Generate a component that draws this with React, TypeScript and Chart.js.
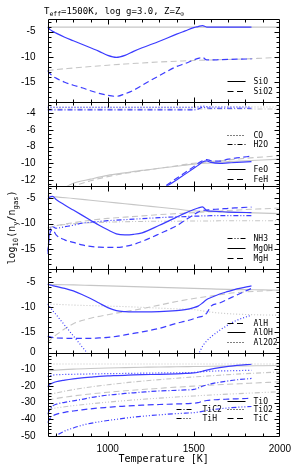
import React, { useEffect, useRef } from 'react';
import { Chart, registerables } from 'chart.js';
Chart.register(...registerables);

// ---- temperature grids ----
const T_BLUE = [650, 665, 680, 700, 750, 800, 850, 900, 950, 1000, 1050, 1100, 1150, 1200, 1300, 1400, 1450, 1500, 1525, 1550, 1575, 1600, 1650, 1700, 1750, 1835];
const T_GRAY = [650, 700, 800, 900, 1000, 1100, 1200, 1300, 1400, 1500, 1600, 1700, 1800, 1900, 2000];

// ---- panel 1: SiO, SiO2 ----
const SiO_B = [-4.1, -4.6, -4.95, -5.3, -6.1, -6.8, -7.5, -8.2, -8.9, -9.7, -10.1, -9.7, -8.9, -8.2, -6.9, -5.5, -4.85, -4.2, -4.0, -3.8, -4.1, -4.1, -4.1, -4.1, -4.1, -4.1];
const SiO2_B = [-12.7, -13.3, -13.8, -14.2, -15.0, -15.6, -16.1, -16.7, -17.2, -17.6, -17.8, -17.3, -16.6, -15.6, -13.7, -11.9, -11.3, -10.6, -10.3, -10.1, -10.6, -10.6, -10.55, -10.5, -10.45, -10.4];
const SiO_G = [-4.1, -4.1, -4.1, -4.1, -4.1, -4.1, -4.1, -4.1, -4.1, -4.1, -4.1, -4.1, -4.1, -4.1, -4.1];
const SiO2_G = [-12.7, -12.5, -12.2, -11.9, -11.65, -11.4, -11.2, -11.0, -10.85, -10.7, -10.6, -10.5, -10.4, -10.25, -10.1];

// ---- panel 2: CO, H2O, FeO, FeH ----
const CO_B = [-3.3, -3.3, -3.3, -3.3, -3.3, -3.3, -3.3, -3.3, -3.3, -3.3, -3.3, -3.3, -3.3, -3.3, -3.3, -3.3, -3.3, -3.3, -3.25, -3.15, -3.2, -3.25, -3.25, -3.25, -3.25, -3.25];
const H2O_B = [-3.6, -3.6, -3.6, -3.6, -3.6, -3.6, -3.6, -3.6, -3.6, -3.6, -3.6, -3.6, -3.6, -3.6, -3.6, -3.6, -3.6, -3.6, -3.5, -3.3, -3.35, -3.4, -3.4, -3.4, -3.4, -3.4];
const FeO_B = [null, null, null, null, null, null, null, null, null, null, null, null, null, -14.6, -13.3, -12.0, -11.3, -10.6, -10.25, -9.85, -9.7, -9.9, -10.0, -9.95, -9.9, -9.8];
const FeH_B = [null, null, null, null, null, null, null, null, null, null, null, null, null, -14.5, -13.2, -11.8, -11.1, -10.4, -10.0, -9.7, -9.55, -9.7, -9.75, -9.5, -9.35, -9.15];
const CO_G = [-3.25, -3.25, -3.25, -3.25, -3.25, -3.25, -3.25, -3.25, -3.25, -3.25, -3.25, -3.25, -3.25, -3.25, -3.25];
const H2O_G = [-3.5, -3.5, -3.5, -3.5, -3.5, -3.5, -3.5, -3.5, -3.5, -3.5, -3.5, -3.5, -3.5, -3.5, -3.5];
const FeO_G = [-14.5, -13.6, -12.4, -11.9, -11.45, -11.15, -10.85, -10.6, -10.35, -10.1, -9.95, -9.8, -9.7, -9.6, -9.5];
const FeH_G = [-15, -14, -12.8, -12.1, -11.6, -11.2, -10.9, -10.6, -10.3, -10.0, -9.8, -9.6, -9.4, -9.25, -9.1];

// ---- panel 3: NH3, MgOH, MgH ----
const MgOH_B = [-5.2, -4.7, -4.6, -5.2, -6.3, -7.3, -8.3, -9.3, -10.3, -11.2, -12.0, -12.2, -12.1, -11.8, -10.3, -8.7, -7.9, -7.2, -6.9, -6.65, -7.4, -7.5, -7.6, -7.7, -7.75, -7.8];
const MgH_B = [-16, -11.8, -11.2, -12.2, -13.2, -13.7, -14.2, -14.5, -14.65, -14.7, -14.7, -14.5, -14.1, -13.5, -12.0, -10.4, -9.3, -8.2, -7.7, -7.4, -7.3, -7.2, -7.1, -6.95, -6.85, -6.7];
const NH3_B = [-15.5, -11.2, -10.6, -10.9, -10.6, -10.3, -9.9, -9.7, -9.55, -9.4, -9.3, -9.2, -9.1, -9.0, -8.8, -8.65, -8.6, -8.5, -8.5, -8.45, -8.45, -8.4, -8.4, -8.4, -8.4, -8.4];
const MgOH_G = [-4.5, -4.7, -5.0, -5.35, -5.7, -6.05, -6.4, -6.75, -7.1, -7.45, -7.6, -7.7, -7.8, -7.9, -8.0];
const MgH_G = [-10.9, -10.4, -9.8, -9.3, -8.95, -8.7, -8.45, -8.2, -8.0, -7.8, -7.6, -7.4, -7.2, -7.05, -6.9];
const NH3_G = [-10.8, -10.4, -10.0, -9.8, -9.7, -9.6, -9.55, -9.5, -9.5, -9.45, -9.45, -9.4, -9.4, -9.4, -9.4];

// ---- panel 4: AlH, AlOH, Al2O2 ----
const AlOH_B = [-5.5, -5.6, -5.75, -5.9, -6.3, -6.8, -7.5, -8.3, -9.2, -10.1, -10.7, -10.9, -10.95, -10.95, -10.9, -10.7, -10.5, -10.1, -9.8, -9.2, -8.5, -8.1, -7.4, -6.9, -6.4, -5.8];
const AlH_B = [-15.8, -15.9, -16.0, -16.1, -16.15, -16.2, -16.2, -16.2, -16.1, -16.0, -15.8, -15.5, -15.2, -14.9, -14.2, -13.2, -12.8, -12.3, -12.0, -11.8, -11.2, -9.8, -9.2, -8.4, -7.6, -6.3];
const Al2O2_B = [-9.4, -10.0, -10.7, -11.5, -13.6, -15.7, -17.8, -19.9, null, null, null, null, null, null, null, null, null, null, -19.5, -17.8, -16.7, -15.9, -14.6, -13.5, -12.6, -11.6];
const AlOH_G = [-5.5, -5.55, -5.6, -5.7, -5.8, -5.9, -6.0, -6.1, -6.2, -6.3, -6.4, -6.5, -6.55, -6.6, -6.65];
const AlH_G = [-16.9, -15.5, -13.3, -12.2, -11.5, -10.9, -10.3, -9.6, -8.9, -8.3, -7.8, -7.3, -7.0, -6.8, -6.65];
const Al2O2_G = [-9.4, -9.45, -9.6, -9.7, -9.8, -9.9, -10.05, -10.2, -10.35, -10.5, -11.0, -11.3, -11.45, -11.55, -11.6];

// ---- panel 5: TiO, TiO2, TiC, TiC2, TiH ----
const TiO_B = [-20.5, -19, -18.2, -17.5, -16.5, -15.7, -15.1, -14.7, -14.3, -14.0, -13.8, -13.6, -13.4, -13.25, -13.0, -12.7, -12.5, -12.2, -11.8, -11.2, -10.5, -9.9, -9.0, -8.3, -7.7, -7.0];
const TiO2_B = [-14.3, -13.8, -13.5, -13.3, -13.1, -13.0, -12.9, -12.8, -12.7, -12.6, -12.55, -12.5, -12.4, -12.35, -12.2, -12.1, -12.0, -11.9, -11.7, -11.5, -11.3, -11.1, -11.0, -10.9, -10.8, -10.6];
const TiC2_B = [-37, -34, -32, -31, -29.8, -28.9, -28.0, -27.0, -26.2, -25.5, -25.0, -24.5, -24.1, -23.7, -23.0, -22.6, -22.4, -22.1, -21.2, -20.2, -19.4, -18.7, -17.8, -17.0, -16.3, -15.5];
const TiC_B = [-42, -39.5, -38, -37, -35.8, -35, -34.3, -33.7, -33.2, -32.8, -32.4, -32.1, -31.8, -31.5, -31.1, -30.8, -30.6, -30.4, -30.0, -29.2, -28.7, -28.4, -28.1, -27.9, -27.7, -27.4];
const TiH_B = [-56, -54, -52, -50, -47, -45.2, -43.6, -42.4, -41.5, -40.7, -40.0, -39.3, -38.7, -38.2, -37.3, -36.6, -36.3, -36.0, -35.7, -35.2, -34.7, -34.3, -33.7, -33.2, -32.8, -32.3];
const TiO_G = [-11, -10.5, -9.9, -9.5, -9.2, -9.0, -8.8, -8.6, -8.5, -8.35, -8.2, -8.1, -8.0, -7.85, -7.7];
const TiO2_G = [-6.8, -6.8, -6.8, -6.8, -6.8, -6.8, -6.8, -6.8, -6.8, -6.8, -6.8, -6.8, -6.8, -6.8, -6.8];
const TiC2_G = [-25.5, -24.2, -22.2, -20.6, -19.3, -18.1, -17.1, -16.2, -15.4, -14.6, -13.9, -13.2, -12.6, -12.1, -11.6];
const TiC_G = [-28.5, -27.5, -26, -24.8, -23.8, -22.9, -22.1, -21.4, -20.7, -20.1, -19.5, -19.0, -18.5, -18.0, -17.5];
const TiH_G = [-34, -33.2, -31.8, -30.7, -29.7, -28.8, -28.0, -27.3, -26.6, -26.0, -25.4, -24.9, -24.4, -23.9, -23.5];

// ---- axis ticks ----
const X_LABELS = [1000, 1500, 2000];
const Y1_LABELS = [-5, -10, -15];
const Y2_LABELS = [-4, -6, -8, -10, -12];
const Y5_LABELS = [0, -10, -20, -30, -40, -50];

const BLUE = '#3b3bff';
const GRAY = '#c6c6c6';
const DASH: Record<string, number[]> = {
  solid: [],
  dashed: [6, 3.5],
  dotted: [1, 2],
  dashdot: [5, 2, 1, 2],
  dashdotdot: [5, 2, 1, 2, 1, 2],
  dash3dot: [5, 2, 1, 2, 1, 2, 1, 2],
};

const PANELS = [
  { id: 'y1', min: -19, max: -2.5, major: 5, minor: 1, labels: Y1_LABELS },
  { id: 'y2', min: -12.7, max: -2.7, major: 2, minor: 0.5, labels: Y2_LABELS },
  { id: 'y3', min: -19, max: -2.5, major: 5, minor: 1, labels: Y1_LABELS },
  { id: 'y4', min: -19, max: -2.5, major: 5, minor: 1, labels: Y1_LABELS },
  { id: 'y5', min: -50, max: 0, major: 10, minor: 2, labels: Y5_LABELS },
];

type S = { name: string; axis: string; style: string; blue: (number | null)[]; gray: (number | null)[] };
const SERIES: S[] = [
  { name: 'SiO', axis: 'y1', style: 'solid', blue: SiO_B, gray: SiO_G },
  { name: 'SiO2', axis: 'y1', style: 'dashed', blue: SiO2_B, gray: SiO2_G },
  { name: 'CO', axis: 'y2', style: 'dotted', blue: CO_B, gray: CO_G },
  { name: 'H2O', axis: 'y2', style: 'dashdot', blue: H2O_B, gray: H2O_G },
  { name: 'FeO', axis: 'y2', style: 'solid', blue: FeO_B, gray: FeO_G },
  { name: 'FeH', axis: 'y2', style: 'dashed', blue: FeH_B, gray: FeH_G },
  { name: 'NH3', axis: 'y3', style: 'dashdotdot', blue: NH3_B, gray: NH3_G },
  { name: 'MgOH', axis: 'y3', style: 'solid', blue: MgOH_B, gray: MgOH_G },
  { name: 'MgH', axis: 'y3', style: 'dashed', blue: MgH_B, gray: MgH_G },
  { name: 'AlH', axis: 'y4', style: 'dashed', blue: AlH_B, gray: AlH_G },
  { name: 'AlOH', axis: 'y4', style: 'solid', blue: AlOH_B, gray: AlOH_G },
  { name: 'Al2O2', axis: 'y4', style: 'dotted', blue: Al2O2_B, gray: Al2O2_G },
  { name: 'TiO', axis: 'y5', style: 'solid', blue: TiO_B, gray: TiO_G },
  { name: 'TiO2', axis: 'y5', style: 'dotted', blue: TiO2_B, gray: TiO2_G },
  { name: 'TiC', axis: 'y5', style: 'dashed', blue: TiC_B, gray: TiC_G },
  { name: 'TiC2', axis: 'y5', style: 'dashdot', blue: TiC2_B, gray: TiC2_G },
  { name: 'TiH', axis: 'y5', style: 'dash3dot', blue: TiH_B, gray: TiH_G },
];

// legend entries: panel index, column (0 = right, 1 = left), offset above panel bottom (px)
const LEGEND = [
  { p: 0, name: 'SiO', style: 'solid', col: 0, dy: 21 },
  { p: 0, name: 'SiO2', style: 'dashed', col: 0, dy: 11.5 },
  { p: 1, name: 'CO', style: 'dotted', col: 0, dy: 51 },
  { p: 1, name: 'H2O', style: 'dashdot', col: 0, dy: 41.5 },
  { p: 1, name: 'FeO', style: 'solid', col: 0, dy: 16.5 },
  { p: 1, name: 'FeH', style: 'dashed', col: 0, dy: 7 },
  { p: 2, name: 'NH3', style: 'dashdotdot', col: 0, dy: 31 },
  { p: 2, name: 'MgOH', style: 'solid', col: 0, dy: 21.5 },
  { p: 2, name: 'MgH', style: 'dashed', col: 0, dy: 11 },
  { p: 3, name: 'AlH', style: 'dashed', col: 0, dy: 30 },
  { p: 3, name: 'AlOH', style: 'solid', col: 0, dy: 20.5 },
  { p: 3, name: 'Al2O2', style: 'dotted', col: 0, dy: 11 },
  { p: 4, name: 'TiO', style: 'solid', col: 0, dy: 35.5 },
  { p: 4, name: 'TiO2', style: 'dotted', col: 0, dy: 26.7 },
  { p: 4, name: 'TiC', style: 'dashed', col: 0, dy: 17.7 },
  { p: 4, name: 'TiC2', style: 'dashdot', col: 1, dy: 26.7 },
  { p: 4, name: 'TiH', style: 'dash3dot', col: 1, dy: 17.7 },
];

const MONO = '"DejaVu Sans Mono", "Liberation Mono", monospace';
const SANS = '"Liberation Sans", Arial, sans-serif';

function drawRich(ctx: CanvasRenderingContext2D, parts: [string, boolean][], x: number, y: number, size: number) {
  let cx = x;
  for (const [txt, sub] of parts) {
    ctx.font = `${sub ? size * 0.72 : size}px ${MONO}`;
    ctx.fillText(txt, cx, sub ? y + size * 0.3 : y);
    cx += ctx.measureText(txt).width;
  }
  return cx - x;
}
function richWidth(ctx: CanvasRenderingContext2D, parts: [string, boolean][], size: number) {
  let w = 0;
  for (const [txt, sub] of parts) {
    ctx.font = `${sub ? size * 0.72 : size}px ${MONO}`;
    w += ctx.measureText(txt).width;
  }
  return w;
}

const decor = {
  id: 'decor',
  afterDraw(chart: any) {
    const ctx: CanvasRenderingContext2D = chart.ctx;
    const xs = chart.scales.x;
    const L = Math.round(xs.left) + 0.5;
    const R = Math.round(xs.right) - 0.5;
    ctx.save();
    ctx.strokeStyle = '#000';
    ctx.lineWidth = 1;
    ctx.setLineDash([]);
    PANELS.forEach((p) => {
      const ys = chart.scales[p.id];
      const T = Math.round(ys.top) + 0.5;
      const B = Math.round(ys.bottom) + 0.5;
      ctx.beginPath();
      ctx.rect(L, T, R - L, B - T);
      for (let t = 700; t < 2000; t += 100) {
        const x = Math.round(xs.getPixelForValue(t)) + 0.5;
        const len = t % 500 === 0 ? 5 : 3;
        ctx.moveTo(x, T); ctx.lineTo(x, T + len);
        ctx.moveTo(x, B); ctx.lineTo(x, B - len);
      }
      const k0 = Math.ceil(p.min / p.minor - 1e-6);
      const k1 = Math.floor(p.max / p.minor + 1e-6);
      for (let k = k0; k <= k1; k++) {
        const v = k * p.minor;
        const y = Math.round(ys.getPixelForValue(v)) + 0.5;
        if (Math.abs(y - T) < 1 || Math.abs(y - B) < 1) continue;
        const r = v / p.major;
        const len = Math.abs(r - Math.round(r)) < 1e-6 ? 5 : 3;
        ctx.moveTo(L, y); ctx.lineTo(L + len, y);
        ctx.moveTo(R, y); ctx.lineTo(R - len, y);
      }
      ctx.stroke();
    });

    // legends
    ctx.font = `8px ${MONO}`;
    ctx.fillStyle = '#000';
    ctx.textBaseline = 'middle';
    ctx.textAlign = 'left';
    for (const e of LEGEND) {
      const ys = chart.scales[PANELS[e.p].id];
      const y = Math.round(ys.bottom - e.dy) + 0.5;
      const x0 = e.col === 0 ? R - 52 : R - 103;
      const x1 = e.col === 0 ? R - 34 : R - 87;
      const xt = e.col === 0 ? R - 26 : R - 77;
      ctx.beginPath();
      ctx.setLineDash(DASH[e.style]);
      ctx.moveTo(x0, y); ctx.lineTo(x1, y);
      ctx.stroke();
      ctx.setLineDash([]);
      ctx.font = `8px ${MONO}`;
      ctx.fillText(e.name, xt, y);
    }

    // title
    ctx.textBaseline = 'alphabetic';
    drawRich(ctx, [['T', false], ['eff', true], ['=1500K, log g=3.0, Z=Z', false], ['\u2299', true]], 44, 13.5, 9);

    // x title
    ctx.textAlign = 'left';
    ctx.font = `10px ${MONO}`;
    const xt = 'Temperature [K]';
    const xw = ctx.measureText(xt).width;
    ctx.fillText(xt, (xs.left + xs.right) / 2 - xw / 2, 462);

    // y title
    const yParts: [string, boolean][] = [['log', false], ['10', true], ['(n', false], ['y', true], ['/n', false], ['gas', true], [')', false]];
    const yw = richWidth(ctx, yParts, 10);
    const top = chart.scales.y1.top;
    const bot = chart.scales.y5.bottom;
    ctx.translate(15, (top + bot) / 2 + yw / 2);
    ctx.rotate(-Math.PI / 2);
    drawRich(ctx, yParts, 0, 0, 10);
    ctx.restore();
  },
};

export default function App() {
  const ref = useRef<HTMLCanvasElement | null>(null);
  useEffect(() => {
    if (!ref.current) return;
    const datasets: any[] = [];
    for (const s of SERIES) {
      datasets.push({
        label: s.name,
        data: T_BLUE.map((t, i) => ({ x: t, y: s.blue[i] })),
        yAxisID: s.axis,
        borderColor: BLUE,
        borderWidth: 1.2,
        borderDash: DASH[s.style],
        pointRadius: 0,
        fill: false,
        cubicInterpolationMode: 'monotone',
        spanGaps: false,
        order: 0,
      });
    }
    for (const s of SERIES) {
      datasets.push({
        label: s.name + ' (gray)',
        data: T_GRAY.map((t, i) => ({ x: t, y: s.gray[i] })),
        yAxisID: s.axis,
        borderColor: GRAY,
        borderWidth: 1.1,
        borderDash: DASH[s.style],
        pointRadius: 0,
        fill: false,
        cubicInterpolationMode: 'monotone',
        order: 1,
      });
    }
    const scales: any = {
      x: {
        type: 'linear',
        min: 650,
        max: 2000,
        grid: { display: false, drawTicks: false },
        border: { display: false },
        ticks: { font: { family: SANS, size: 10 }, color: '#000', padding: 7, autoSkip: false, maxRotation: 0, callback: (v: any) => String(v) },
        afterBuildTicks: (s: any) => { s.ticks = X_LABELS.map((value) => ({ value })); },
        afterFit: (s: any) => { s.height = 32; },
      },
    };
    PANELS.forEach((p, i) => {
      scales[p.id] = {
        type: 'linear',
        position: 'left',
        stack: 'panels',
        stackWeight: 1,
        weight: 10 - i,
        min: p.min,
        max: p.max,
        grid: { display: false, drawTicks: false },
        border: { display: false },
        ticks: { font: { family: SANS, size: 10 }, color: '#000', padding: 12, autoSkip: false, callback: (v: any) => String(v) },
        afterBuildTicks: (s: any) => { s.ticks = p.labels.map((value) => ({ value })); },
        afterFit: (s: any) => { s.width = 47.5; },
      };
    });
    const chart = new Chart(ref.current, {
      type: 'line',
      data: { datasets },
      options: {
        responsive: false,
        animation: false,
        devicePixelRatio: 1,
        layout: { padding: { top: 19, right: 18, left: 0, bottom: 0 } },
        plugins: { legend: { display: false }, tooltip: { enabled: false }, title: { display: false } },
        scales,
      },
      plugins: [decor],
    } as any);
    return () => chart.destroy();
  }, []);
  return (
    <div style={{ position: 'fixed', left: 0, top: 0, width: 298, height: 468, background: '#fff' }}>
      <canvas ref={ref} width={298} height={468} style={{ width: 298, height: 468, display: 'block' }} />
    </div>
  );
}
